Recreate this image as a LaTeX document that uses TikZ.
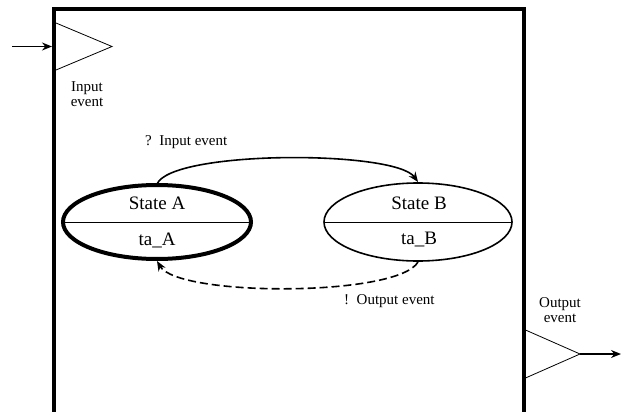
\documentclass[tikz,border=0pt]{standalone}
\usepackage{fontspec}
\setmainfont{Liberation Serif}
\usetikzlibrary{arrows.meta}
\begin{document}
\begin{tikzpicture}[x=1pt,y=-1pt,
  port/.style={draw, line width=0.8pt},
  conn/.style={line width=1.6pt, -{Stealth[length=10pt,width=8pt]}},
  lbl/.style={font=\fontsize{15}{15.5}\selectfont, align=center, inner sep=0pt},
  stlbl/.style={font=\fontsize{19}{20}\selectfont, inner sep=0pt}]
\useasboundingbox (0,0) rectangle (624,412);
% block
\draw[line width=4pt] (54,413) -- (54,9.5) -- (523.5,9.5) -- (523.5,413);
% ports
\draw[port] (56,23) -- (112,46.5) -- (56,70) coordinate (inb);
\coordinate (inA) at (12,46.5);
\coordinate (inB) at (52,46.5);
\draw[conn] (inA) -- (inB);
\node[lbl] (inlbl) at (87,94) {Input\\event};
\draw[port] (525.5,330) -- (580,354) coordinate (outtip) -- (525.5,378);
\coordinate (outE) at (621,354);
\draw[conn] (outtip) -- (outE);
\node[lbl] (outlbl) at (560,310) {Output\\event};
% states
\draw[line width=4pt] (157,222) ellipse [x radius=94, y radius=37];
\draw[line width=1.6pt] (418,222) ellipse [x radius=94, y radius=39];
\draw[line width=0.9pt] (63,222) -- (251,222);
\draw[line width=0.9pt] (324,222) -- (512,222);
\coordinate (Atop) at (157,184);
\coordinate (Abot) at (157,261);
\coordinate (Btop) at (418,182);
\coordinate (Bbot) at (418,262);
\node[stlbl] (sa) at (157,203) {State A};
\node[stlbl] (ta) at (157,240) {ta\_A};
\node[stlbl] (sb) at (419,203) {State B};
\node[stlbl] (tb) at (419,240) {ta\_B};
% transitions
\draw[conn] (Atop) .. controls (172,150) and (395,150) .. (Btop);
\draw[conn, dash pattern=on 8pt off 4pt] (Bbot) .. controls (398,297) and (178,297) .. (Abot);
\node[lbl, anchor=west] (il) at (145,142) {?\ \ Input event};
\node[lbl, anchor=west] (ol) at (344,301) {!\ \ Output event};
\end{tikzpicture}
\end{document}
